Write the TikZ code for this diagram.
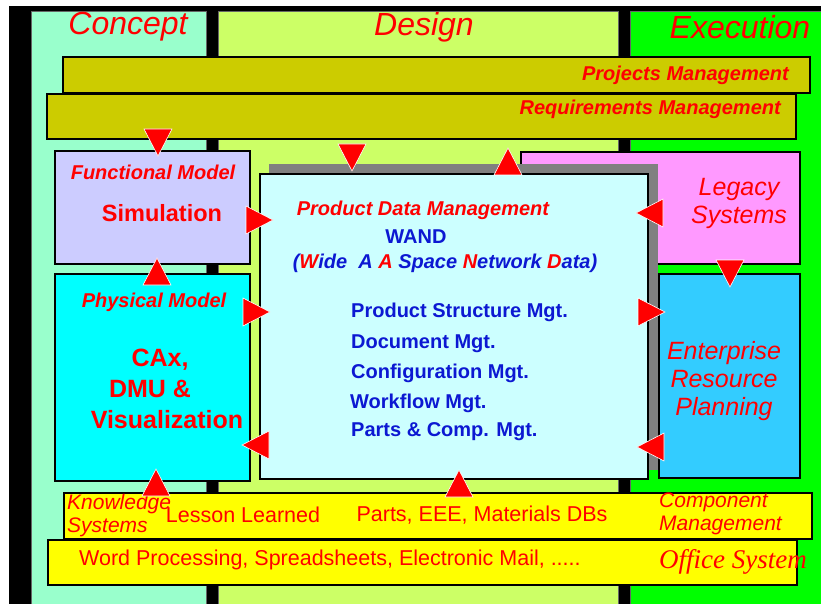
\documentclass[tikz,border=0pt]{standalone}
\usepackage{fontspec}
\setmainfont{Liberation Sans}
\newfontfamily\timesfont{Liberation Serif}
\newcommand\setfs[2]{\fontsize{#1}{#2}\selectfont}
\definecolor{conceptcol}{RGB}{153,255,204}
\definecolor{designcol}{RGB}{204,255,102}
\definecolor{execcol}{RGB}{0,255,0}
\definecolor{mgmtcol}{RGB}{204,204,0}
\definecolor{funccol}{RGB}{204,204,255}
\definecolor{physcol}{RGB}{0,255,255}
\definecolor{pdmcol}{RGB}{204,255,255}
\definecolor{legacycol}{RGB}{255,153,255}
\definecolor{erpcol}{RGB}{51,204,255}
\definecolor{kbcol}{RGB}{255,255,0}
\definecolor{wandblue}{RGB}{12,24,210}
\definecolor{wandred}{RGB}{255,0,0}
\tikzset{
  phasecol/.style={fill=#1,draw=black!60,line width=0.6pt,inner sep=0,minimum height=593pt},
  block/.style={fill=#1,draw=black,line width=1.5pt,inner sep=0},
  phasetitle/.style={text=wandred,font=\itshape\setfs{32}{34},inner sep=0},
  redtag/.style={text=wandred,font=\bfseries\itshape\setfs{20}{22},inner sep=0},
  bigred/.style={text=wandred,font=\bfseries\setfs{25}{30},inner sep=0},
  softred/.style={text=wandred,font=\itshape\setfs{25}{28},inner sep=0,align=center},
  wandtxt/.style={text=wandblue,font=\bfseries\setfs{20}{22},inner sep=0},
  dbtxt/.style={text=wandred,font=\setfs{21.5}{24},inner sep=0},
  sidetxt/.style={text=wandred,font=\itshape\setfs{21}{23},inner sep=0,align=left},
  arrowtri/.style={fill=wandred,draw=white,line width=0.6pt},
  tridown/.pic={\draw[arrowtri] (0,0) -- (-14,-27) -- (14,-27) -- cycle;},
  triup/.pic={\draw[arrowtri] (0,0) -- (-14,27) -- (14,27) -- cycle;},
  trileft/.pic={\draw[arrowtri] (0,0) -- (27,-14) -- (27,14) -- cycle;},
  triright/.pic={\draw[arrowtri] (0,0) -- (-27,-14) -- (-27,14) -- cycle;}
}
\begin{document}
\begin{tikzpicture}[x=1pt,y=-1pt]
    \useasboundingbox (0,0) rectangle (821,604);
    \fill[white] (0,0) rectangle (821,604);
    \fill[black] (9,6) rectangle (821,604);

    \node[phasecol=conceptcol,minimum width=175pt] (concept) at (118.5,307.5) {};
    \node[phasecol=designcol,minimum width=400pt] (design) at (418,307.5) {};
    \node[phasecol=execcol,minimum width=191pt] (execution) at (725.5,307.5) {};

    \node[phasetitle] (concepttitle) at (128,27) {Concept};
    \node[phasetitle] (designtitle) at (424,27) {Design};
    \node[phasetitle] (exectitle) at (740,27) {Execution};

    \node[block=mgmtcol,minimum width=747pt,minimum height=36pt] (projects) at (436.5,75) {};
    \node[block=mgmtcol,minimum width=749pt,minimum height=45pt] (requirements) at (421.5,116.5) {};
    \node[redtag,anchor=east] (projectslbl) at (789,75) {Projects Management};
    \node[redtag,anchor=east] (requirementslbl) at (781,109) {Requirements Management};

    \node[block=funccol,minimum width=195pt,minimum height=113pt] (functional) at (152.5,207.5) {};
    \node[block=physcol,minimum width=195pt,minimum height=207pt] (physical) at (152.5,377.5) {};
    \node[block=legacycol,minimum width=279pt,minimum height=112pt] (legacy) at (660.5,208) {};
    \node[block=erpcol,minimum width=141pt,minimum height=204pt] (erp) at (729.5,376) {};
    \node[fill=black!50,inner sep=0,minimum width=389pt,minimum height=306pt] (pdmshadow) at (463.5,317) {};
    \node[block=pdmcol,minimum width=388pt,minimum height=305pt] (pdm) at (454,326.5) {};

    \node[block=kbcol,minimum width=748pt,minimum height=46pt] (knowledge) at (438,516) {};
    \node[block=kbcol,minimum width=749pt,minimum height=45pt] (office) at (422.5,562.5) {};

    \node[redtag] (funclbl) at (153,172) {Functional Model};
    \node[bigred,font=\bfseries\setfs{23.5}{26}] (simlbl) at (162,213) {Simulation};
    \node[redtag] (physlbl) at (154,302) {Physical Model};
    \node[bigred] (caxlbl) at (160,360) {CAx,};
    \node[bigred] (dmulbl) at (150,389) {DMU \&};
    \node[bigred] (visulbl) at (167,420) {Visualization};

    \node[softred] (legacylbl) at (739,203) {Legacy\\Systems};
    \node[softred] (erplbl) at (724,381) {Enterprise\\Resource\\Planning};

    \node[redtag] (pdmlbl) at (423,210) {Product Data Management};
    \node[wandtxt] (wandlbl) at (416,237) {WAND};
    \node[wandtxt,font=\bfseries\itshape\setfs{20}{22}] (wandlong) at (445,263)
      {(\textcolor{wandred}{W}ide\ \ A \textcolor{wandred}{A} Space \textcolor{wandred}{N}etwork \textcolor{wandred}{D}ata)};
    \node[wandtxt,anchor=west] (pslbl) at (351,312) {Product Structure Mgt.};
    \node[wandtxt,anchor=west] (doclbl) at (351,344) {Document Mgt.};
    \node[wandtxt,anchor=west] (conflbl) at (351,373) {Configuration Mgt.};
    \node[wandtxt,anchor=west] (wflbl) at (350,403) {Workflow Mgt.};
    \node[wandtxt,anchor=west] (partslbl) at (351,432) {Parts \& Comp. Mgt.};

    \node[sidetxt,anchor=west] (kslbl) at (67,516) {Knowledge\\Systems};
    \node[dbtxt] (lessonlbl) at (243,515) {Lesson Learned};
    \node[dbtxt] (dblbl) at (482,515) {Parts, EEE, Materials DBs};
    \node[sidetxt,anchor=west] (complbl) at (659,514) {Component\\Management};
    \node[dbtxt,anchor=west] (wordlbl) at (79,560) {Word Processing, Spreadsheets, Electronic Mail, .....};
    \node[text=wandred,font=\timesfont\itshape\setfs{27}{30},inner sep=0,anchor=west] (officelbl) at (659,562) {Office System};

    \pic at (158,156) {tridown};
    \pic at (352,171) {tridown};
    \pic at (508,148) {triup};
    \pic at (273,220) {triright};
    \pic at (157,258) {triup};
    \pic at (270,312) {triright};
    \pic at (242,445) {trileft};
    \pic at (156,469) {triup};
    \pic at (459,470) {triup};
    \pic at (636,213) {trileft};
    \pic at (730,287) {tridown};
    \pic at (665,312) {triright};
    \pic at (637,447) {trileft};
\end{tikzpicture}
\end{document}
